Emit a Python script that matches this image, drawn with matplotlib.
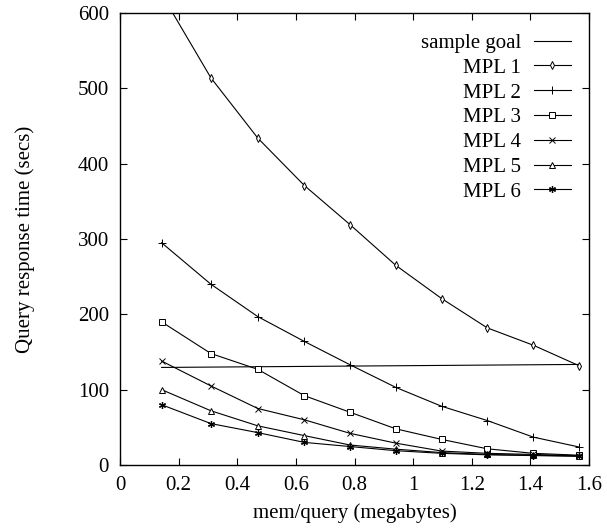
import matplotlib
matplotlib.use('Agg')
import matplotlib.pyplot as plt

plt.rcParams['font.family'] = ['Liberation Serif', 'DejaVu Serif']

mem = [0.142, 0.31, 0.47, 0.629, 0.785, 0.941, 1.097, 1.253, 1.41, 1.565]

goal_x = [0.142, 1.565]
goal_y = [129.5, 133.5]

mpl1 = [625, 514, 434, 371, 319, 265, 221, 182, 159, 132]
mpl2 = [295, 240, 197, 164, 133, 103, 78, 59, 37, 24]
mpl3 = [190, 148, 127, 92, 70, 48, 34, 21.5, 15.5, 13]
mpl4 = [138, 105, 75, 60, 42, 29, 18.5, 15.5, 14, 12.3]
mpl5 = [100, 72, 52, 39, 26.5, 21, 16.5, 14, 13, 12]
mpl6 = [80, 55, 43, 30, 24.5, 19, 15.5, 13.5, 12.5, 11.5]

fig = plt.figure(figsize=(6.07, 5.31), dpi=100)
ax = fig.add_axes([120 / 607, 66 / 531, 469 / 607, 452 / 531])

lw = 0.8
ms = 4
ax.plot(goal_x, goal_y, '-', color='black', lw=lw, label='sample goal')
ax.plot(mem, mpl1, '-', color='black', lw=lw, marker='d', ms=ms, mfc='white', mew=0.7, label='MPL 1')
ax.plot(mem, mpl2, '-', color='black', lw=lw, marker='+', ms=ms + 2, mew=0.7, label='MPL 2')
ax.plot(mem, mpl3, '-', color='black', lw=lw, marker='s', ms=ms, mfc='white', mew=0.7, label='MPL 3')
ax.plot(mem, mpl4, '-', color='black', lw=lw, marker='x', ms=ms + 1, mew=0.7, label='MPL 4')
ax.plot(mem, mpl5, '-', color='black', lw=lw, marker='^', ms=ms, mfc='white', mew=0.7, label='MPL 5')
ax.plot(mem, mpl6, '-', color='black', lw=lw, marker=(6, 2, 0), ms=ms + 1, mew=0.9, label='MPL 6')

ax.set_xlim(0, 1.6)
ax.set_ylim(0, 600)
ax.set_xticks([0, 0.2, 0.4, 0.6, 0.8, 1, 1.2, 1.4, 1.6])
ax.set_xticklabels(['0', '0.2', '0.4', '0.6', '0.8', '1', '1.2', '1.4', '1.6'])
ax.set_yticks([0, 100, 200, 300, 400, 500, 600])
ax.tick_params(direction='in', length=5, width=0.8, top=True, right=True,
               labelsize=15, pad=8)
for s in ax.spines.values():
    s.set_linewidth(1.0)

ax.set_xlabel('mem/query (megabytes)', fontsize=15, labelpad=6)
ax.set_ylabel('Query response time (secs)', fontsize=15, labelpad=31)

leg = ax.legend(loc='upper right', bbox_to_anchor=(0.962, 0.955), frameon=False,
                markerfirst=False, fontsize=15, handlelength=1.8, handletextpad=0.6,
                labelspacing=0.25, borderpad=0, borderaxespad=0)

fig.savefig('out.png', dpi=100)
